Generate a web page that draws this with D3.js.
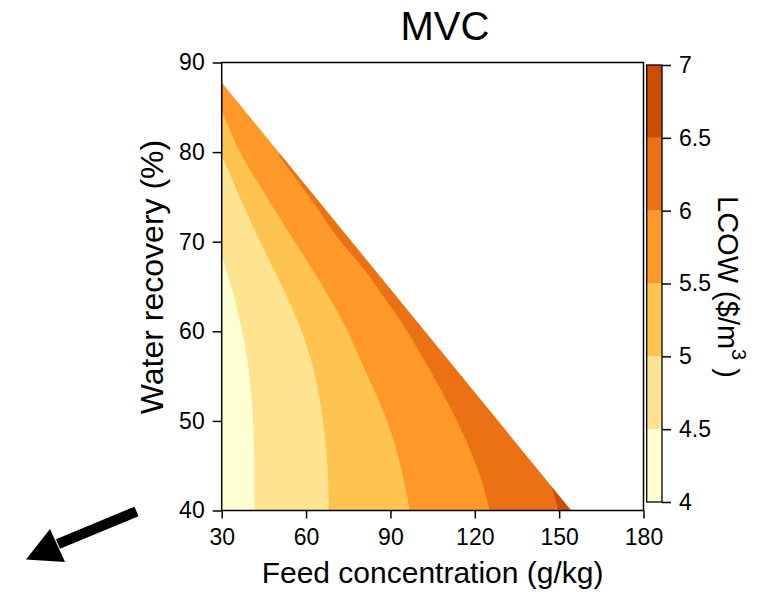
<!DOCTYPE html>
<html>
<head>
<meta charset="utf-8">
<script src="https://cdn.jsdelivr.net/npm/d3@7"></script>
<style>
  html, body { margin: 0; padding: 0; background: #fff; }
  svg { display: block; font-family: "Liberation Sans", Arial, sans-serif; }
</style>
</head>
<body>
<svg id="chart" width="774" height="592"></svg>
<script>
// ---------------- data ----------------
const title = "MVC";
const xLabel = "Feed concentration (g/kg)";
const yLabel = "Water recovery (%)";
const xTicks = [30, 60, 90, 120, 150, 180];
const yTicks = [40, 50, 60, 70, 80, 90];
const levels = [4, 4.5, 5, 5.5, 6, 6.5, 7];
const bandColors = ["#ffffd4", "#fee391", "#fec44f", "#fe9929", "#ec7014", "#cc4c02"];

// feasibility limit (max recovery vs feed concentration), [conc, recovery]
const feasibleBoundary = [[30, 87.75], [154.2, 40]];

// contour lines [conc g/kg, recovery %], from bottom (40 %) upward
const contour45 = [[41.7, 40], [41.6, 45], [41.2, 50], [40.2, 54], [38.5, 58], [36.2, 61.5], [33.4, 65], [30, 68.3]];
const contour50 = [[68.1, 40], [67.6, 45], [66.0, 50], [63.2, 55], [59.0, 59.5], [53.0, 64], [46.0, 68.5], [38.5, 73.5], [30, 79.7]];
const contour55 = [[96.9, 40], [94.0, 44.5], [88.7, 50.1], [80.9, 55.7], [74.0, 60.5], [66.0, 65], [56.0, 70], [46.0, 75], [36.5, 80], [30, 84.7]];
const contour60 = [[125.4, 40], [121.2, 44.5], [113.5, 50.1], [104.0, 55.7], [93.4, 61.3], [88.4, 63.5], [80.9, 66.8], [70.2, 70.9], [61.9, 74.7], [50.5, 79.5]];
const contour65 = [[149.7, 40], [148.6, 41.4], [147.3, 42.65]];
const contours = [contour45, contour50, contour55, contour60, contour65];

// ---------------- layout ----------------
const svg = d3.select("#chart");
const x = d3.scaleLinear([30, 180], [221.7, 643.5]);
const y = d3.scaleLinear([40, 90], [510.5, 62.5]);
const yc = d3.scaleLinear([4, 7], [502, 65]);
const fontTick = 23;

// clip to feasible region
const feasiblePoly = [[30, 40], feasibleBoundary[0], feasibleBoundary[1]];
svg.append("clipPath").attr("id", "feas")
  .append("path")
  .attr("d", "M" + feasiblePoly.map(p => x(p[0]) + "," + y(p[1])).join("L") + "Z");

const g = svg.append("g").attr("clip-path", "url(#feas)");
g.append("path")
  .attr("d", "M" + feasiblePoly.map(p => x(p[0]) + "," + y(p[1])).join("L") + "Z")
  .attr("fill", bandColors[0]);

const lineGen = d3.line().x(d => x(d[0])).y(d => y(d[1])).curve(d3.curveCatmullRom.alpha(0.5));
contours.forEach((pts, i) => {
  const first = pts[0], last = pts[pts.length - 1];
  let ext;
  if (last[0] <= 30.001) ext = [[25, last[1]], [25, 100], [200, 100], [200, 35]];
  else ext = [[last[0], 100], [200, 100], [200, 35]];
  const d = "M" + x(first[0]) + "," + y(35) +
    lineGen(pts).replace(/^M/, "L") +
    ext.map(p => "L" + x(p[0]) + "," + y(p[1])).join("") + "Z";
  g.append("path").attr("d", d).attr("fill", bandColors[i + 1]);
});

// frame
svg.append("rect")
  .attr("x", x(30)).attr("y", y(90))
  .attr("width", x(180) - x(30)).attr("height", y(40) - y(90))
  .attr("fill", "none").attr("stroke", "#000").attr("stroke-width", 1.5);

// axes
const xAxis = svg.append("g").attr("transform", `translate(0,${y(40)})`)
  .call(d3.axisBottom(x).tickValues(xTicks).tickSize(8).tickPadding(10).tickSizeOuter(0));
const yAxis = svg.append("g").attr("transform", `translate(${x(30)},0)`)
  .call(d3.axisLeft(y).tickValues(yTicks).tickSize(9).tickPadding(8).tickSizeOuter(0));
[xAxis, yAxis].forEach(a => {
  a.select(".domain").remove();
  a.selectAll(".tick line").attr("stroke", "#000").attr("stroke-width", 1.5);
  a.selectAll(".tick text").attr("fill", "#000")
    .style("font-size", fontTick + "px").style("font-family", "Liberation Sans, Arial, sans-serif");
});

// colorbar
const cbX = 646.7, cbW = 15.3;
svg.append("g").selectAll("rect").data(bandColors).join("rect")
  .attr("x", cbX).attr("width", cbW)
  .attr("y", (c, i) => yc(levels[i + 1]))
  .attr("height", (c, i) => yc(levels[i]) - yc(levels[i + 1]))
  .attr("fill", c => c);
svg.append("rect").attr("x", cbX).attr("y", yc(7)).attr("width", cbW).attr("height", yc(4) - yc(7))
  .attr("fill", "none").attr("stroke", "#000").attr("stroke-width", 1.3);
const cAxis = svg.append("g").attr("transform", `translate(${cbX + cbW},0)`)
  .call(d3.axisRight(yc).tickValues(levels).tickFormat(d => String(d)).tickSize(9).tickPadding(8).tickSizeOuter(0));
cAxis.select(".domain").remove();
cAxis.selectAll(".tick line").attr("stroke", "#000").attr("stroke-width", 1.5);
cAxis.selectAll(".tick text").attr("fill", "#000")
  .style("font-size", fontTick + "px").style("font-family", "Liberation Sans, Arial, sans-serif");

// titles
svg.append("text").attr("x", 445).attr("y", 40).attr("text-anchor", "middle")
  .style("font-size", "40px").text(title);
svg.append("text").attr("x", (x(30) + x(180)) / 2).attr("y", 583).attr("text-anchor", "middle")
  .style("font-size", "30px").text(xLabel);
svg.append("text").attr("transform", `translate(163,277) rotate(-90)`)
  .attr("text-anchor", "middle").style("font-size", "32px").text(yLabel);
const cl = svg.append("text").attr("transform", `translate(718,287) rotate(90)`)
  .attr("text-anchor", "middle").style("font-size", "29px");
cl.append("tspan").text("LCOW ($/m");
cl.append("tspan").attr("dy", -14).style("font-size", "20px").text("3");
cl.append("tspan").attr("dy", 14).text(" )");

// arrow decoration
svg.append("line").attr("x1", 136.5).attr("y1", 511.5).attr("x2", 58).attr("y2", 544)
  .attr("stroke", "#000").attr("stroke-width", 10.5);
svg.append("path").attr("d", "M50,529 L26,559.5 L65,562 Z").attr("fill", "#000");
</script>
</body>
</html>
